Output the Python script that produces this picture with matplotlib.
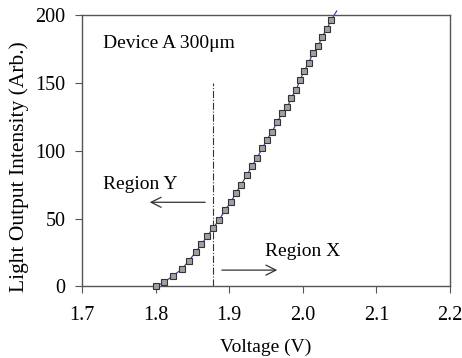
import matplotlib
matplotlib.use("Agg")
import matplotlib.pyplot as plt

plt.rcParams['font.family'] = ['Liberation Serif', 'DejaVu Serif']

voltage = [1.800, 1.811, 1.824, 1.836, 1.845, 1.854, 1.862, 1.870, 1.878, 1.886,
           1.894, 1.902, 1.909, 1.916, 1.924, 1.931, 1.938, 1.945, 1.951, 1.958,
           1.965, 1.972, 1.979, 1.984, 1.991, 1.996, 2.002, 2.008, 2.014, 2.021,
           2.026, 2.033, 2.038]
intensity = [0, 3, 8, 13, 19, 25, 31, 37, 43, 49,
             56, 62, 69, 75, 82, 89, 95, 102, 108, 114,
             121, 128, 132, 139, 145, 152, 159, 165, 172, 177,
             184, 190, 196]
# fitted line runs a bit past the last measured point
line_v = voltage + [2.046]
line_i = intensity + [203]

split_v = 1.878

fig, ax = plt.subplots(figsize=(4.62, 3.58), dpi=100)
fig.subplots_adjust(left=0.178, right=0.974, top=0.958, bottom=0.2)

ax.plot(line_v, line_i, color='#3030a0', lw=0.8, clip_on=False, zorder=2)
ax.plot(voltage, intensity, ls='none', marker='s', ms=4.4, mfc='#a0a0a0',
        mec='#333333', mew=0.8, clip_on=False, zorder=3)

ax.plot([split_v, split_v], [0, 150], color='#333333', lw=0.8, ls='-.')

ax.annotate('', xy=(1.788, 62), xytext=(1.871, 62),
            arrowprops=dict(arrowstyle='->', color='#333333', lw=0.9,
                            mutation_scale=18))
ax.annotate('', xy=(1.969, 12), xytext=(1.886, 12),
            arrowprops=dict(arrowstyle='->', color='#333333', lw=0.9,
                            mutation_scale=18))
ax.text(1.728, 75, 'Region Y', fontsize=14, va='center')
ax.text(1.949, 26, 'Region X', fontsize=14, va='center')
ax.text(1.728, 179, 'Device A 300\u03bcm', fontsize=14, va='center')

ax.set_xlim(1.7, 2.2)
ax.set_ylim(0, 200)
ax.set_xticks([1.7, 1.8, 1.9, 2.0, 2.1, 2.2])
ax.set_xticklabels(['1.7', '1.8', '1.9', '2.0', '2.1', '2.2'])
ax.set_yticks([0, 50, 100, 150, 200])
ax.tick_params(direction='out', length=5, width=0.8, colors='#555555',
               labelcolor='black', labelsize=14.5)
ax.tick_params(axis='x', pad=9)
ax.tick_params(axis='y', pad=7)
for s in ax.spines.values():
    s.set_color('#555555')
    s.set_linewidth(1.0)

ax.set_xlabel('Voltage (V)', fontsize=14, labelpad=10)
ax.set_ylabel('Light Output Intensity (Arb.)', fontsize=15.5)
ax.yaxis.set_label_coords(-0.145, 0.44)

fig.savefig('out.png', dpi=100)
